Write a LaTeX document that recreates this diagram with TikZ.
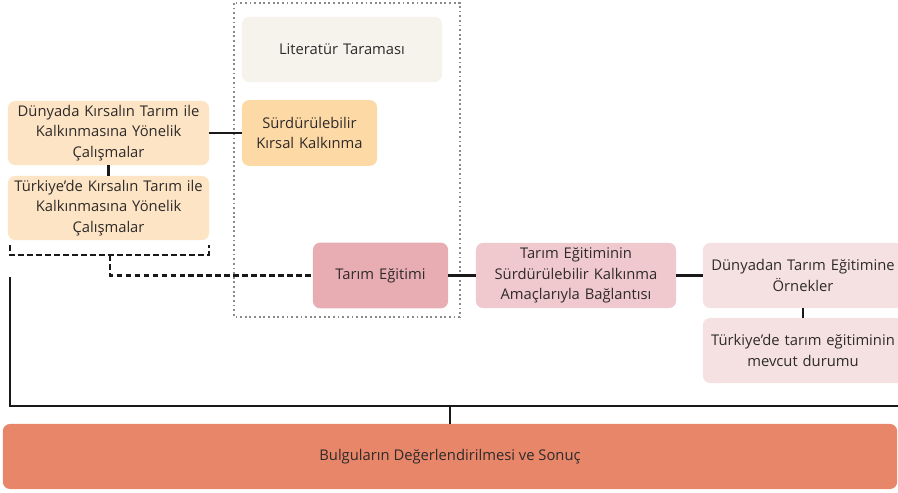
\documentclass[tikz,border=0pt]{standalone}
\usepackage{fontspec}
\setmainfont{Open Sans}
\usepackage{xcolor}
\definecolor{lit-beige}{HTML}{F6F3EC}
\definecolor{skk-orange}{HTML}{FDD9A6}
\definecolor{cal-cream}{HTML}{FCE4C4}
\definecolor{te-rose}{HTML}{E8ADB2}
\definecolor{teb-pink}{HTML}{F0C9CE}
\definecolor{ornek-pink}{HTML}{F5E1E2}
\definecolor{sonuc-coral}{HTML}{E8866A}
\definecolor{ink}{HTML}{2E2A2A}
\definecolor{frame-gray}{HTML}{8A8A8A}

\tikzset{
  box/.style={rounded corners=5pt, inner sep=1pt, align=center, text=ink,
    font=\fontsize{10.5}{14.4}\selectfont},
  wide/.style={box, minimum width=5cm, minimum height=1.625cm, text width=4.85cm},
  narrow/.style={box, minimum width=3.375cm, minimum height=1.64cm, text width=3.25cm},
  link/.style={line width=1.5pt, black!90},
  dashlink/.style={link, dash pattern=on 4pt off 2.4pt}
}

\begin{document}
\begin{tikzpicture}[x=0.025cm, y=-0.025cm]

    % Page
    \useasboundingbox (0, 0) rectangle (898, 492);
    \clip (0, 0) rectangle (898, 492);

    % Literature frame
    \draw[frame-gray, line width=1.3pt, dotted] (234, 3) rectangle (460, 317);

    % Boxes
    \node[wide, fill=lit-beige] (lit) at (342, 49.5) {Literatür Taraması};
    \node[narrow, fill=skk-orange] (skk) at (309.5, 133) {Sürdürülebilir\\Kırsal Kalkınma};
    \node[wide, fill=cal-cream, minimum width=5.025cm, minimum height=1.6cm] (dunya) at (108.5, 133)
        {Dünyada Kırsalın Tarım ile\\Kalkınmasına Yönelik\\Çalışmalar};
    \node[wide, fill=cal-cream, minimum width=5.025cm, minimum height=1.6cm] (turkiye) at (108.5, 208)
        {Türkiye’de Kırsalın Tarım ile\\Kalkınmasına Yönelik\\Çalışmalar};
    \node[narrow, fill=te-rose] (egitim) at (380.5, 275.5) {Tarım Eğitimi};
    \node[wide, fill=teb-pink] (baglanti) at (576, 275.5)
        {Tarım Eğitiminin\\Sürdürülebilir Kalkınma\\Amaçlarıyla Bağlantısı};
    \node[wide, fill=ornek-pink] (ornek) at (803, 275.5) {Dünyadan Tarım Eğitimine\\Örnekler};
    \node[wide, fill=ornek-pink] (durum) at (803, 350.5) {Türkiye’de tarım eğitiminin\\mevcut durumu};
    \node[box, fill=sonuc-coral, minimum width=22.35cm, minimum height=1.625cm] (sonuc) at (450, 456.5)
        {Bulguların Değerlendirilmesi ve Sonuç};

    % Links
    \draw[link] (dunya.east) -- (skk.west);
    \draw[link] (dunya.south) -- (turkiye.north);
    \draw[link] (egitim.east) -- (baglanti.west);
    \draw[link] (baglanti.east) -- (ornek.west);
    \draw[link] (ornek.south) -- (durum.north);

    % Bracket to Tarım Eğitimi
    \coordinate (brl) at (10, 245);
    \coordinate (brr) at (209, 245);
    \coordinate (brm) at (110, 255);
    \draw[dashlink] (brl) -- ++(0, 10) -| (brr);
    \draw[dashlink] (brm) |- (egitim.west);

    % Collector to results
    \coordinate (colstart) at (10, 277);
    \coordinate (colend) at (905, 406);
    \coordinate (colmid) at (sonuc.north |- colend);
    \draw[link] (colstart) |- (colend);
    \draw[link] (colmid) -- (sonuc.north);

\end{tikzpicture}
\end{document}
